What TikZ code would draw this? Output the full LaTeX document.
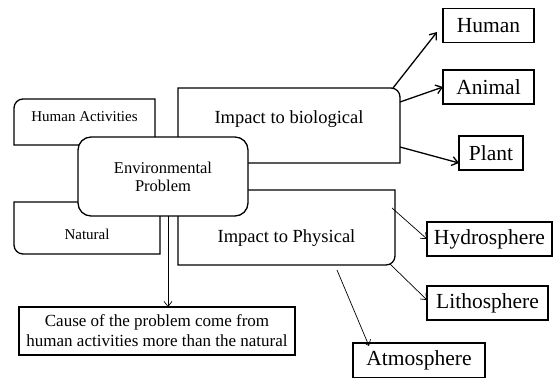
\documentclass[tikz,border=0pt]{standalone}
\usepackage{fontspec}
\setmainfont{Liberation Serif}
\usetikzlibrary{arrows.meta}

\begin{document}
\begin{tikzpicture}[x=1pt, y=-1pt,
  box/.style={inner sep=0pt, outer sep=0pt},
  edge/.style={line width=1.3pt},
  leaf/.style={box, draw, line width=1.2pt, minimum height=34pt, font=\fontsize{21.5}{24}\selectfont},
  bioarrow/.style={line width=1.3pt, -{Straight Barb[length=6pt,width=9pt]}},
  phyarrow/.style={line width=0.7pt, -{Straight Barb[length=5pt,width=8pt]}}]
  \useasboundingbox (0,0) rectangle (553,377);

  % Causes
  \node[box, minimum width=141pt, minimum height=46pt, text height=0pt, text depth=1pt, font=\fontsize{15}{18}\selectfont] (hum) at (84.5,122) {Human Activities};
  \node[box, minimum width=146pt, minimum height=52pt, text height=23pt, text depth=0pt, font=\fontsize{15}{18}\selectfont] (nat) at (87,228) {Natural};
  \draw[edge] (hum.west) [rounded corners=9pt] -- (hum.north west) -- (hum.north) [sharp corners] -- (hum.north east) -- (hum.south east) -- (hum.south west) -- cycle;
  \draw[edge] (nat.north west) -- (nat.north east) -- (nat.south east) -- (nat.south) [rounded corners=9pt] -- (nat.south west) -- (nat.west) [sharp corners] -- cycle;

  % Impacts
  \node[box, minimum width=222pt, minimum height=75pt, text height=0pt, text depth=4pt, font=\fontsize{18.5}{22}\selectfont] (bio) at (289,125.5) {Impact to biological};
  \node[box, minimum width=217pt, minimum height=75pt, text height=30pt, text depth=0pt, font=\fontsize{18.5}{22}\selectfont] (phy) at (286.5,227.5) {Impact to Physical};
  \draw[edge] (bio.south west) -- (bio.north west) -- (bio.north) [rounded corners=9pt] -- (bio.north east) -- (bio.east) [sharp corners] -- (bio.south east) -- cycle;
  \draw[edge] (phy.north west) -- (phy.north east) -- (phy.east) [rounded corners=9pt] -- (phy.south east) -- (phy.south) [sharp corners] -- (phy.south west) -- cycle;

  \node[box, draw, line width=1.3pt, fill=white, rounded corners=13pt, minimum width=170pt, minimum height=79pt, align=center, font=\fontsize{16.5}{18}\selectfont] (env) at (163,176.5) {Environmental\\Problem};

  \node[box, draw, line width=1.2pt, minimum width=276pt, minimum height=48pt, align=center, font=\fontsize{17}{20}\selectfont] (cau) at (157,331) {Cause of the problem come from\\human activities more than the natural};

  % Biological
  \node[leaf, minimum width=91pt] (hu) at (488.5,25.5) {Human};
  \node[leaf, minimum width=91pt] (an) at (488.5,87) {Animal};
  \node[leaf, minimum width=64pt] (pl) at (491,153) {Plant};

  % Physical
  \node[leaf, minimum width=125pt] (hy) at (489.5,239) {Hydrosphere};
  \node[leaf, minimum width=121pt] (li) at (487.5,303) {Lithosphere};
  \node[leaf, minimum width=132pt, minimum height=35pt] (at) at (419,360.5) {Atmosphere};

  \draw[bioarrow] ([xshift=-7pt]bio.north east) -- ([xshift=-6pt,yshift=-6.5pt]hu.west);
  \draw[bioarrow] ([yshift=23.5pt]bio.east) -- (an.west);
  \draw[bioarrow] ([yshift=-21.5pt]bio.east) -- ([yshift=-10pt]pl.west);

  \draw[phyarrow] ([xshift=-3pt,yshift=19.5pt]phy.east) -- (hy.west);
  \draw[phyarrow] ([xshift=-5pt,yshift=1pt]phy.south east) -- ([yshift=3pt]li.west);
  \draw[phyarrow] ([xshift=50.5pt,yshift=-5pt]phy.south) -- ([xshift=16pt,yshift=-3pt]at.north west);

  \draw[phyarrow] ([xshift=5pt]env.south) -- ([xshift=5pt]env.south |- cau.north);
\end{tikzpicture}
\end{document}
